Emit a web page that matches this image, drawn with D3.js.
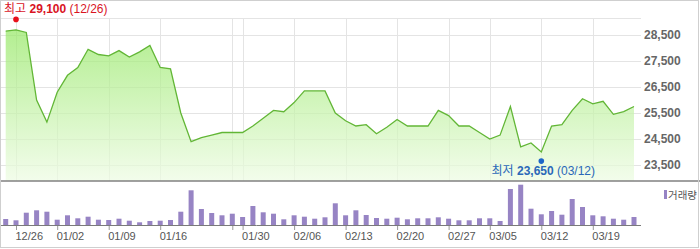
<!doctype html>
<html lang="ko">
<head>
    <meta charset="UTF-8">
    <title>Price chart</title>
    <script src="https://d3js.org/d3.v7.min.js"></script>
    <style>
        body { margin: 0; background: #fff; }
        svg { display: block; font-family: "Liberation Sans", Arial, "Noto Sans CJK KR", sans-serif; }
    </style>
</head>
<body>
<div id="chart"></div>
<script>

    //closing prices, one per trading day
    const prices = [28650, 28700, 28600, 26000, 25150, 26300, 26950, 27250, 27950, 27750,
        27700, 27900, 27650, 27850, 28100, 27250, 27200, 25500, 24400, 24550,
        24650, 24750, 24750, 24750, 25000, 25300, 25600, 25550, 25900, 26350,
        26350, 26350, 25500, 25200, 25000, 25050, 24700, 24950, 25250, 25000,
        25000, 25000, 25600, 25400, 25000, 25000, 24750, 24500, 24650, 25750,
        24200, 24350, 24000, 25000, 25050, 25600, 26050, 25850, 25950, 25450,
        25550, 25750];

    //volume, same days
    const volumes = [60000, 47000, 123000, 147000, 133000, 53000, 97000, 67000, 83000, 53000,
        50000, 63000, 43000, 27000, 40000, 43000, 50000, 133000, 347000, 160000,
        120000, 97000, 113000, 80000, 190000, 127000, 113000, 57000, 97000, 83000,
        63000, 77000, 217000, 97000, 147000, 100000, 70000, 63000, 73000, 57000,
        67000, 67000, 77000, 63000, 47000, 47000, 67000, 67000, 40000, 360000,
        403000, 163000, 107000, 140000, 103000, 260000, 180000, 97000, 87000, 63000,
        53000, 80000];

    //weekly ticks (day index + label)
    const tickIdx = [1, 5, 10, 15, 22, 23, 28, 33, 38, 43, 47, 52, 57];
    const tickLabels = ["12/26", "01/02", "01/09", "01/16", "01/23", "01/30", "02/06",
        "02/13", "02/20", "02/27", "03/05", "03/12", "03/19"];

    const priceTicks = [23500, 24500, 25500, 26500, 27500, 28500];

    //high / low markers
    const high = {idx: 1, price: 29100, date: "12/26"};
    const low = {idx: 52, price: 23650, date: "03/12"};

    const width = 700, height = 249;
    const plotRight = 641, priceTop = 17.5, priceBottom = 181, volBottom = 225;

    const svg = d3.select("#chart").append("svg")
        .attr("width", width)
        .attr("height", height);

    //scales
    let x = d3.scaleLinear()
        .domain([0, prices.length - 1])
        .range([5.7, 634]);

    let y = d3.scaleLinear()
        .domain([23500, 28500])
        .range([165, 35]);

    let yVol = d3.scaleLinear()
        .domain([0, 440000])
        .range([volBottom, priceBottom]);

    //gradient for the area
    let grad = svg.append("defs").append("linearGradient")
        .attr("id", "fillGrad")
        .attr("gradientUnits", "userSpaceOnUse")
        .attr("x1", 0).attr("y1", priceTop)
        .attr("x2", 0).attr("y2", priceBottom);
    grad.append("stop").attr("offset", "0%").attr("stop-color", "#8fe65c");
    grad.append("stop").attr("offset", "100%").attr("stop-color", "#eefce4");

    //grid
    let grid = svg.append("g").attr("class", "grid")
        .attr("stroke", "#e4e4e4")
        .attr("shape-rendering", "crispEdges");

    grid.selectAll("line.h")
        .data([priceTop].concat(priceTicks.map(d => y(d))))
        .enter().append("line")
        .attr("x1", 0).attr("x2", plotRight)
        .attr("y1", d => Math.round(d) + 0.5)
        .attr("y2", d => Math.round(d) + 0.5);

    grid.selectAll("line.v")
        .data(tickIdx)
        .enter().append("line")
        .attr("x1", d => Math.round(x(d)) + 0.5)
        .attr("x2", d => Math.round(x(d)) + 0.5)
        .attr("y1", priceTop).attr("y2", priceBottom);

    //price area + line
    let area = d3.area()
        .x((d, i) => x(i))
        .y0(priceBottom)
        .y1(d => y(d));

    let line = d3.line()
        .x((d, i) => x(i))
        .y(d => y(d));

    svg.append("path")
        .datum(prices)
        .attr("d", area)
        .attr("fill", "url(#fillGrad)")
        .attr("fill-opacity", 0.72);

    svg.append("path")
        .datum(prices)
        .attr("d", line)
        .attr("fill", "none")
        .attr("stroke", "#62b636")
        .attr("stroke-width", 1.3);

    //y axis labels on the right
    let yAxis = d3.axisRight(y)
        .tickValues(priceTicks)
        .tickSize(0)
        .tickPadding(0)
        .tickFormat(d3.format(","));

    svg.append("g")
        .attr("transform", "translate(644,0)")
        .call(yAxis)
        .call(g => g.select(".domain").remove())
        .selectAll("text")
        .attr("fill", "#666")
        .attr("font-size", 12)
        .attr("font-weight", "bold")
        .attr("font-family", "'Liberation Sans', Arial, sans-serif");

    //panel separator
    svg.append("line")
        .attr("x1", 0).attr("x2", width)
        .attr("y1", priceBottom).attr("y2", priceBottom)
        .attr("stroke", "#808080")
        .attr("stroke-width", 1.6);

    //volume bars
    svg.append("g").selectAll("rect")
        .data(volumes)
        .enter().append("rect")
        .attr("x", (d, i) => x(i) - 2.5)
        .attr("width", 5)
        .attr("y", d => yVol(d))
        .attr("height", d => volBottom - yVol(d))
        .attr("fill", "#9784c4");

    //x axis
    let xAxis = d3.axisBottom(x)
        .tickValues(tickIdx)
        .tickSizeInner(5)
        .tickSizeOuter(0)
        .tickPadding(2)
        .tickFormat((d, i) => tickLabels[i]);

    let gx = svg.append("g")
        .attr("transform", "translate(0," + volBottom + ")")
        .call(xAxis);

    gx.select(".domain").remove();
    gx.append("line")
        .attr("x1", 0).attr("x2", plotRight)
        .attr("y1", 0.5).attr("y2", 0.5)
        .attr("stroke", "#7a7a7a");
    gx.selectAll(".tick line").attr("stroke", "#999");
    gx.selectAll(".tick text")
        .attr("text-anchor", "start")
        .attr("x", -1)
        .attr("fill", "#555")
        .attr("font-size", 11)
        .attr("font-family", "'Liberation Sans', Arial, sans-serif");

    //drop labels that would run into the next one
    gx.selectAll(".tick text").each(function (d, i) {
        if (i < tickIdx.length - 1 && x(tickIdx[i + 1]) - x(d) < 30) {
            d3.select(this).remove();
        }
    });

    //legend
    svg.append("rect")
        .attr("x", 664).attr("y", 190)
        .attr("width", 3).attr("height", 9)
        .attr("fill", "#9784c4");
    svg.append("text")
        .attr("x", 668).attr("y", 198.5)
        .attr("font-size", 10.5)
        .attr("fill", "#555")
        .attr("font-family", "'Noto Sans CJK KR', sans-serif")
        .text("거래량");

    //high marker + label
    svg.append("circle")
        .attr("cx", x(high.idx)).attr("cy", y(high.price))
        .attr("r", 2.8).attr("fill", "#e8101a");

    let hi = svg.append("text")
        .attr("x", 4).attr("y", 13)
        .attr("font-size", 12)
        .attr("fill", "#d9141f");
    hi.append("tspan").attr("font-family", "'Noto Sans CJK KR', sans-serif").text("최고 ");
    hi.append("tspan").attr("font-weight", "bold").text(d3.format(",")(high.price));
    hi.append("tspan").text(" (" + high.date + ")");

    //low marker + label
    svg.append("circle")
        .attr("cx", x(low.idx)).attr("cy", y(low.price))
        .attr("r", 2.8).attr("fill", "#1e66c8");

    let lo = svg.append("text")
        .attr("x", x(low.idx) + 2).attr("y", 175)
        .attr("text-anchor", "middle")
        .attr("font-size", 12)
        .attr("fill", "#2a68b8");
    lo.append("tspan").attr("font-family", "'Noto Sans CJK KR', sans-serif").text("최저 ");
    lo.append("tspan").attr("font-weight", "bold").text(d3.format(",")(low.price));
    lo.append("tspan").text(" (" + low.date + ")");

    //outer border
    svg.append("rect")
        .attr("x", 0.5).attr("y", 0.5)
        .attr("width", 698).attr("height", 247)
        .attr("fill", "none")
        .attr("stroke", "#cfcfcf");

</script>
</body>
</html>
